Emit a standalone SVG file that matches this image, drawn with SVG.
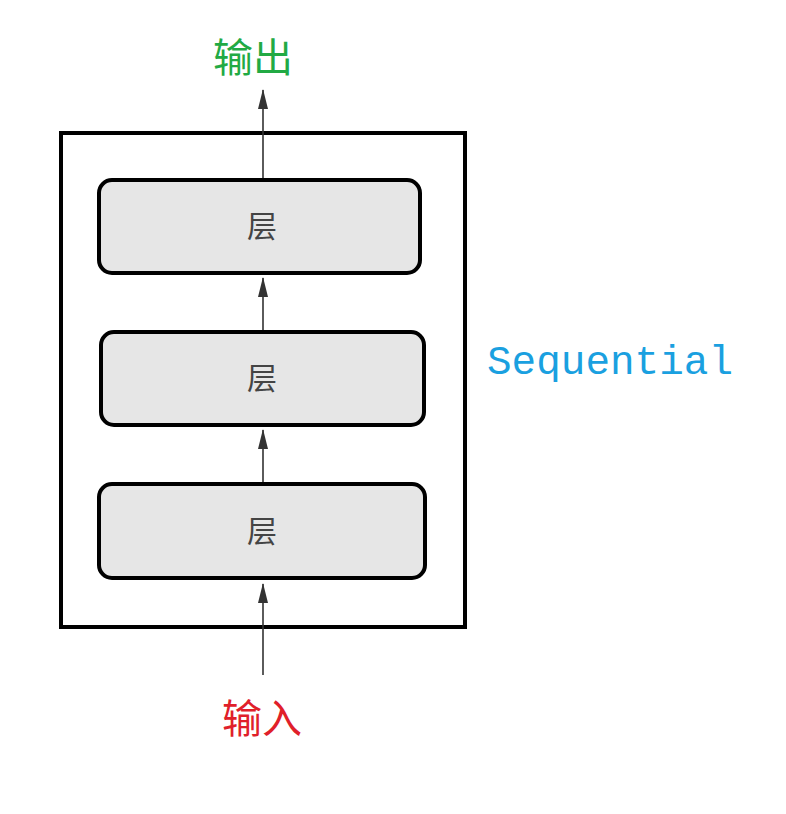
<svg xmlns="http://www.w3.org/2000/svg" width="786" height="814" viewBox="0 0 786 814">
<style>
.layer{fill:#e6e6e6;stroke:#000;stroke-width:4}
.lt{font-family:"Noto Sans CJK SC",sans-serif;font-size:30px;fill:#444;text-anchor:middle}
.c{stroke:#333;stroke-width:1.6;fill:none}
</style>
<defs><marker id="a" viewBox="0 0 10 10" refX="9" refY="5" markerWidth="8" markerHeight="12" markerUnits="userSpaceOnUse" orient="auto"><path d="M0,0L10,5L0,10z" fill="#333"/></marker>
<marker id="b" viewBox="0 0 20 10" refX="19" refY="5" markerWidth="20" markerHeight="10" markerUnits="userSpaceOnUse" orient="auto"><path d="M0,0L20,5L0,10z" fill="#333"/></marker></defs>
<rect id="container" x="61" y="133" width="404" height="494" fill="#fff" stroke="#000" stroke-width="4"/>
<g id="layer3"><rect class="layer" x="99" y="180" width="321" height="93" rx="13"/><text class="lt" x="262" y="237">层</text></g>
<g id="layer2"><rect class="layer" x="101" y="332" width="323" height="93" rx="13"/><text class="lt" x="262" y="389">层</text></g>
<g id="layer1"><rect class="layer" x="99" y="484" width="326" height="94" rx="13"/><text class="lt" x="262" y="542">层</text></g>
<g id="connectors">
<line class="c" x1="263" y1="675" x2="263" y2="584" marker-end="url(#b)"/>
<line class="c" x1="263" y1="482" x2="263" y2="430" marker-end="url(#b)"/>
<line class="c" x1="263" y1="330" x2="263" y2="278" marker-end="url(#b)"/>
<line class="c" x1="263" y1="178" x2="263" y2="90" marker-end="url(#b)"/>
</g>
<text x="253" y="72" font-family="Noto Sans CJK SC,sans-serif" font-size="40" fill="#22aa44" text-anchor="middle">输出</text>
<text x="262" y="733" font-family="Noto Sans CJK SC,sans-serif" font-size="40" fill="#e0202a" text-anchor="middle">输入</text>
<text x="487" y="374" font-family="Liberation Mono,monospace" font-size="41" fill="#1aa0e0">Sequential</text>
</svg>
